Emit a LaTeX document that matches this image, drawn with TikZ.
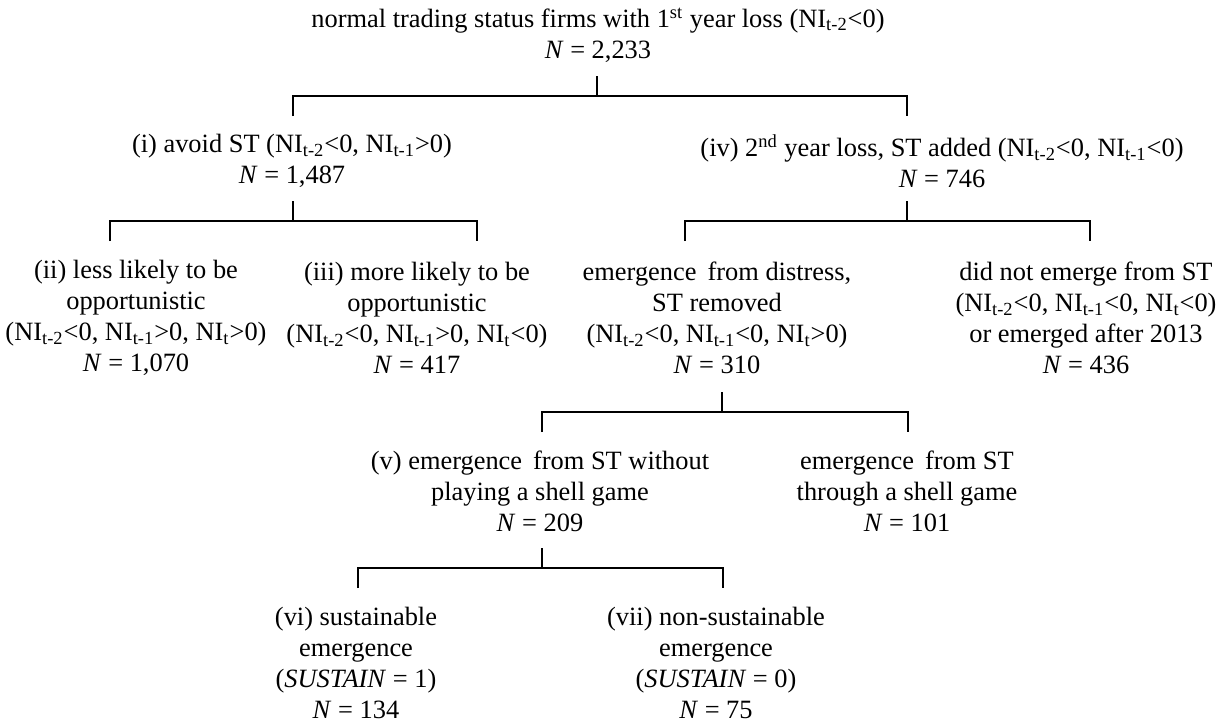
\documentclass[tikz,border=0pt]{standalone}
\usepackage{fontspec}
\setmainfont{Liberation Serif}
\usetikzlibrary{positioning}
\newcommand{\NI}[1]{NI\textsubscript{#1}}
\begin{document}
\begin{tikzpicture}[
  x=0.5pt, y=-0.5pt,
  every node/.style={font=\fontsize{13.2}{15.5}\selectfont, align=center, inner sep=0pt},
  tie/.style={draw=black, line width=1pt}
]
\useasboundingbox (0,0) rectangle (1225,723);

% level 0
\node (top) at (598,35) {normal trading status firms with 1\textsuperscript{st} year loss (\NI{t-2}<0)\\\textit{N} = 2,233};

% level 1
\node (avoid) at (292,161) {(i) avoid ST (\NI{t-2}<0, \NI{t-1}>0)\\\textit{N} = 1,487};
\node (loss2) at (942,161) {(iv) 2\textsuperscript{nd} year loss, ST added (\NI{t-2}<0, \NI{t-1}<0)\\\textit{N} = 746};

% level 2
\node (less) at (136,318) {(ii) less likely to be\\opportunistic\\(\NI{t-2}<0, \NI{t-1}>0, \NI{t}>0)\\\textit{N} = 1,070};
\node (more) at (417,318) {(iii) more likely to be\\opportunistic\\(\NI{t-2}<0, \NI{t-1}>0, \NI{t}<0)\\\textit{N} = 417};
\node (emerg) at (717,318) {emergence\, from distress,\\ST removed\\(\NI{t-2}<0, \NI{t-1}<0, \NI{t}>0)\\\textit{N} = 310};
\node (noemerg) at (1086,318) {did not emerge from ST\\(\NI{t-2}<0, \NI{t-1}<0, \NI{t}<0)\\or emerged after 2013\\\textit{N} = 436};

% level 3
\node (noshell) at (540,491) {(v) emergence\, from ST without\\playing a shell game\\\textit{N} = 209};
\node (shell) at (907,491) {emergence\, from ST\\through a shell game\\\textit{N} = 101};

% level 4
\node (sust) at (356,663) {(vi) sustainable\\emergence\\(\textit{SUSTAIN} = 1)\\\textit{N} = 134};
\node (nonsust) at (716,663) {(vii) non-sustainable\\emergence\\(\textit{SUSTAIN} = 0)\\\textit{N} = 75};

% split points
\coordinate (k0) at (597,76);  \coordinate (k0l) at (293,116); \coordinate (k0r) at (907,116);
\coordinate (k1) at (293,201); \coordinate (k1l) at (110,241); \coordinate (k1r) at (477,241);
\coordinate (k2) at (907,201); \coordinate (k2l) at (685,241); \coordinate (k2r) at (1090,241);
\coordinate (k3) at (722,392); \coordinate (k3l) at (542,432); \coordinate (k3r) at (908,432);
\coordinate (k4) at (542,548); \coordinate (k4l) at (358,588); \coordinate (k4r) at (723,588);

\foreach \k in {k0,k1,k2,k3,k4} {
  \draw[tie] (\k l) -- ++(0,-20) coordinate (\k b) -| (\k r);
  \draw[tie] (\k) -- (\k |- \k b);
}
\end{tikzpicture}
\end{document}
